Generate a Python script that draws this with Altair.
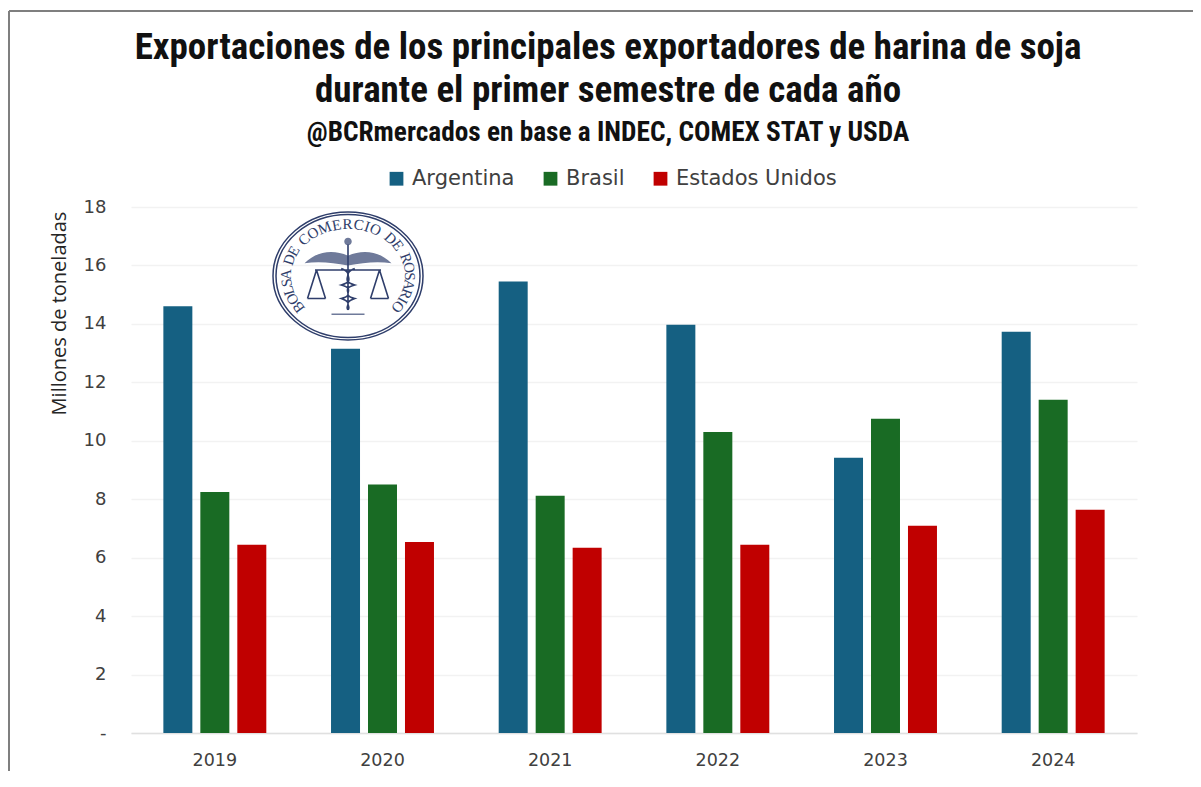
import math
import altair as alt
import pandas as pd

years = ["2019", "2020", "2021", "2022", "2023", "2024"]
argentina = [14.6, 13.15, 15.45, 13.97, 9.42, 13.73]
brasil = [8.25, 8.5, 8.12, 10.3, 10.75, 11.4]
estados_unidos = [6.44, 6.54, 6.34, 6.44, 7.09, 7.64]
series = ["Argentina", "Brasil", "Estados Unidos"]
colors = ["#156082", "#196B24", "#C00000"]
title_lines = ["Exportaciones de los principales exportadores de harina de soja",
               "durante el primer semestre de cada año"]
subtitle = "@BCRmercados en base a INDEC, COMEX STAT y USDA"
y_title = "Millones de toneladas"
logo_text = "BOLSA DE COMERCIO DE ROSARIO"

rows = []
for name, vals in zip(series, [argentina, brasil, estados_unidos]):
    for yr, v in zip(years, vals):
        rows.append({"year": yr, "serie": name, "value": v})
df = pd.DataFrame(rows)

W, H = 1006, 526
NAVY = "#2F3E6B"
TITLE_FONT = "Roboto Condensed, Arial Narrow, Roboto, sans-serif"

bars = alt.Chart(df).mark_bar().encode(
    x=alt.X("year:N", sort=years, title=None,
            scale=alt.Scale(paddingInner=0.386, paddingOuter=0.193),
            axis=alt.Axis(labelAngle=0, labelFont="DejaVu Sans", labelFontSize=17.5, labelColor="#404040",
                          labelPadding=18, ticks=False, domainColor="#E0E0E0", domainWidth=1.5, grid=False)),
    xOffset=alt.XOffset("serie:N", sort=series, scale=alt.Scale(paddingInner=0.216, paddingOuter=0)),
    y=alt.Y("value:Q", title=y_title,
            scale=alt.Scale(domain=[0, 18]),
            axis=alt.Axis(values=list(range(0, 19, 2)), labelExpr="datum.value === 0 ? '-' : datum.label",
                          labelFont="DejaVu Sans", labelFontSize=18, labelColor="#404040", labelPadding=25,
                          ticks=False, domain=False, gridColor="#F2F2F2", gridWidth=1.5,
                          titleFont="Open Sans", titleFontSize=20, titleFontWeight="normal", titleColor="#262626",
                          titleX=-62, titleY=106, titleAnchor="middle")),
    color=alt.Color("serie:N", sort=series, title=None,
                    scale=alt.Scale(domain=series, range=colors),
                    legend=alt.Legend(orient="none", legendX=255, legendY=-39, direction="horizontal",
                                      symbolType="square", symbolSize=190, symbolStrokeWidth=0,
                                      labelFont="DejaVu Sans", labelFontSize=21, labelColor="#404040", labelLimit=300,
                                      columnPadding=25, labelOffset=5, columns=3)),
)

# Logo: ring, emblem, lettering
CX, CY = 217, 69
RX, RY = 62, 52
ring = "M-1,0A1,.853 0 1 1 1,0A1,.853 0 1 1 -1,0Z M-.96,0A.96,.82 0 1 1 .96,0A.96,.82 0 1 1 -.96,0Z"
wings = ("M0,-.27 C-.2,-.36 -.42,-.33 -.58,-.17 C-.4,-.2 -.2,-.18 0,-.14 C.2,-.18 .4,-.2 .58,-.17 "
         "C.42,-.33 .2,-.36 0,-.27Z M-.05,-.46 a.05,.05 0 1 1 .1,0 a.05,.05 0 1 1 -.1,0Z "
         "M-.22,.5 L.22,.5 L.22,.52 L-.22,.52Z")
staff = ("M0,-.42 L0,.4 M-.09,-.1 C.12,-.02 -.14,.05 .09,.12 C-.13,.18 .12,.25 -.09,.3 C.08,.36 -.05,.4 0,.45 "
         "M.09,-.1 C-.12,-.02 .14,.05 -.09,.12 C.13,.18 -.12,.25 .09,.3 C-.08,.36 .05,.4 0,.45 "
         "M-.44,-.08 L.44,-.08 M-.42,-.08 L-.54,.3 M-.42,-.08 L-.3,.3 M-.54,.3 L-.3,.3 "
         "M.42,-.08 L.54,.3 M.42,-.08 L.3,.3 M.54,.3 L.3,.3")
logo_df = pd.DataFrame({"x": [CX], "y": [CY]})
logo_x = alt.X("x:Q", scale=None)
logo_y = alt.Y("y:Q", scale=None)
ring_mark = alt.Chart(logo_df).mark_point(shape=ring, size=22500, filled=False, stroke=NAVY, strokeWidth=1.5, opacity=1).encode(x=logo_x, y=logo_y)
wing_mark = alt.Chart(logo_df).mark_point(shape=wings, size=22500, filled=True, fill="#6F7A9A", strokeWidth=0, opacity=1).encode(x=logo_x, y=logo_y)
staff_mark = alt.Chart(logo_df).mark_point(shape=staff, size=22500, filled=False, stroke=NAVY, strokeWidth=1.6, opacity=1).encode(x=logo_x, y=logo_y)

weights = {" ": 0.6, "I": 0.55, "M": 1.35, "O": 1.1, "C": 1.05, "D": 1.1, "R": 1.05, "L": 0.9, "E": 0.95, "S": 0.85}
w = [weights.get(c, 1.0) for c in logo_text]
total = sum(w)
letters = []
run = 0.0
for ch, wi in zip(logo_text, w):
    a = math.radians(-132 + 264 * (run + wi / 2) / total)
    run += wi
    if ch != " ":
        letters.append({"ch": ch, "x": CX + RX * math.sin(a), "y": CY - RY * math.cos(a), "ang": (math.degrees(a) + 360) % 360})
letter_mark = alt.Chart(pd.DataFrame(letters)).mark_text(font="Liberation Serif", fontSize=15, color=NAVY, align="center", baseline="middle").encode(
    x=logo_x, y=logo_y, text="ch:N", angle=alt.Angle("ang:Q", scale=None))

# Frame lines of the picture
left_line = alt.Chart(pd.DataFrame({"k": ["left"]})).mark_rule(color="#7F7F7F", strokeWidth=2).encode(
    x=alt.value(-122), y=alt.value(-196), y2=alt.value(H + 60))
top_line = alt.Chart(pd.DataFrame({"k": ["top"]})).mark_rule(color="#7F7F7F", strokeWidth=2).encode(
    y=alt.value(-196), x=alt.value(-122), x2=alt.value(W + 63))

chart = alt.layer(bars, ring_mark, wing_mark, staff_mark, letter_mark, left_line, top_line).properties(
    width=W, height=H,
    padding={"left": 123, "top": 199, "right": 56, "bottom": 38},
    autosize=alt.AutoSizeParams(type="none"),
    background="white",
    title=alt.TitleParams(
        text=title_lines, subtitle=subtitle, anchor="middle", frame="group", dx=-26,
        font=TITLE_FONT, fontSize=37, fontWeight="bold", color="#111111", lineHeight=43,
        subtitleFont=TITLE_FONT, subtitleFontSize=27.3, subtitleFontWeight="bold",
        subtitleColor="#111111", subtitlePadding=9, offset=-137),
).configure_view(stroke=None)

chart.save("out.html", embed_options={"renderer": "svg", "actions": False})
